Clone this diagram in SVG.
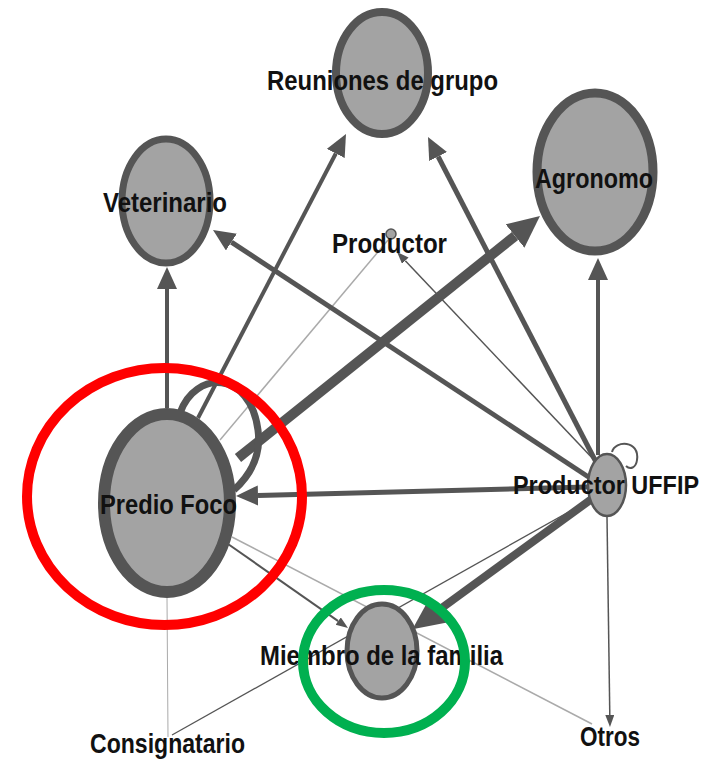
<svg xmlns="http://www.w3.org/2000/svg" width="713" height="763" viewBox="0 0 713 763">
<style>
.n{fill:#a3a3a3;stroke:#555}
.e{stroke:#555;fill:none}
.lt{stroke:#aaa;fill:none}
.t{font-family:"Liberation Sans",Arial,sans-serif;font-weight:bold;font-size:27px;fill:#111}
</style>
<defs>
<marker id="aL" markerUnits="userSpaceOnUse" markerWidth="34" markerHeight="32" refX="0" refY="15" orient="auto"><path d="M0,0 L32,15 L0,30 Z" fill="#555"/></marker>
<marker id="aM" markerUnits="userSpaceOnUse" markerWidth="24" markerHeight="22" refX="0" refY="10" orient="auto"><path d="M0,0 L22,10 L0,20 Z" fill="#555"/></marker>
<marker id="aS" markerUnits="userSpaceOnUse" markerWidth="14" markerHeight="10" refX="0" refY="4.5" orient="auto"><path d="M0,0 L12,4.5 L0,9 Z" fill="#555"/></marker>
</defs>
<rect width="713" height="763" fill="#fff"/>
<g id="connectors">
<line class="lt" x1="167" y1="598" x2="168" y2="737" stroke-width="1"/>
<line class="lt" x1="232" y1="537" x2="592" y2="724" stroke-width="1.5"/>
<line class="e" x1="590" y1="500" x2="172" y2="735" stroke-width="1.3" stroke="#777"/>
<line class="lt" x1="388" y1="240" x2="220" y2="440" stroke-width="1.5" stroke="#999"/>
<line class="e" x1="588" y1="487" x2="258" y2="495.5" stroke-width="5" marker-end="url(#aM)"/>
<line class="e" x1="590" y1="478" x2="231.4" y2="242.1" stroke-width="5" marker-end="url(#aM)"/>
<line class="e" x1="596" y1="462" x2="438.1" y2="156.5" stroke-width="5" marker-end="url(#aM)"/>
<line class="e" x1="198" y1="418" x2="335.8" y2="153.5" stroke-width="4" marker-end="url(#aM)"/>
<line class="e" x1="167" y1="408" x2="167" y2="289" stroke-width="4" marker-end="url(#aM)"/>
<line class="e" x1="238" y1="458" x2="515" y2="236" stroke-width="10" marker-end="url(#aL)"/>
<line class="e" x1="598" y1="455" x2="598" y2="280" stroke-width="4" marker-end="url(#aM)"/>
<line class="e" x1="593" y1="498" x2="438.3" y2="610.4" stroke-width="8" marker-end="url(#aL)"/>
<line class="e" x1="596" y1="462" x2="405.3" y2="260.7" stroke-width="1.5" marker-end="url(#aS)"/>
<line class="e" x1="607" y1="517" x2="609.8" y2="715" stroke-width="1.5" marker-end="url(#aS)"/>
<line class="e" x1="228" y1="544" x2="338.2" y2="621.1" stroke-width="2" marker-end="url(#aS)"/>
<path class="e" d="M180 413 C195 370 250 370 258 430 C262 460 245 480 234 490" stroke-width="7"/>
<path class="e" d="M612 452 C615 440 640 440 637 460 C636 468 630 470 626 466" stroke-width="2"/>
</g>
<g id="node-reuniones"><ellipse class="n" cx="382" cy="73" rx="46" ry="61" stroke-width="8"/><text class="t" x="267" y="90" textLength="231" lengthAdjust="spacingAndGlyphs">Reuniones de grupo</text></g>
<g id="node-veterinario"><ellipse class="n" cx="166" cy="201" rx="44" ry="62" stroke-width="7"/><text class="t" x="103" y="212" textLength="124" lengthAdjust="spacingAndGlyphs">Veterinario</text></g>
<g id="node-agronomo"><ellipse class="n" cx="595" cy="172" rx="58" ry="79" stroke-width="9"/><text class="t" x="535" y="188" textLength="118" lengthAdjust="spacingAndGlyphs">Agronomo</text></g>
<g id="node-productor"><circle class="n" cx="391" cy="234" r="5" stroke-width="1.5"/><text class="t" x="332" y="253" textLength="115" lengthAdjust="spacingAndGlyphs">Productor</text></g>
<g id="node-predio"><ellipse class="n" cx="167" cy="503" rx="63" ry="89" stroke-width="12"/><text class="t" x="100" y="514" textLength="137" lengthAdjust="spacingAndGlyphs">Predio Foco</text></g>
<g id="node-uffip"><ellipse class="n" cx="607" cy="485" rx="19" ry="31" stroke-width="2.5"/><text class="t" x="513" y="494" style="font-size:25px" textLength="186" lengthAdjust="spacingAndGlyphs">Productor UFFIP</text></g>
<g id="node-miembro"><ellipse class="n" cx="382" cy="651" rx="35" ry="47" stroke-width="5"/><text class="t" x="260" y="665" textLength="243" lengthAdjust="spacingAndGlyphs">Miembro de la familia</text></g>
<g id="node-consignatario"><text class="t" x="90" y="753" textLength="155" lengthAdjust="spacingAndGlyphs">Consignatario</text></g>
<g id="node-otros"><text class="t" x="580" y="746" textLength="60" lengthAdjust="spacingAndGlyphs">Otros</text></g>
<g id="highlights">
<ellipse cx="164.5" cy="496.5" rx="137.5" ry="128.5" fill="none" stroke="#ff0000" stroke-width="10"/>
<ellipse cx="384" cy="661.5" rx="81" ry="71.5" fill="none" stroke="#00b050" stroke-width="10"/>
</g>
</svg>
